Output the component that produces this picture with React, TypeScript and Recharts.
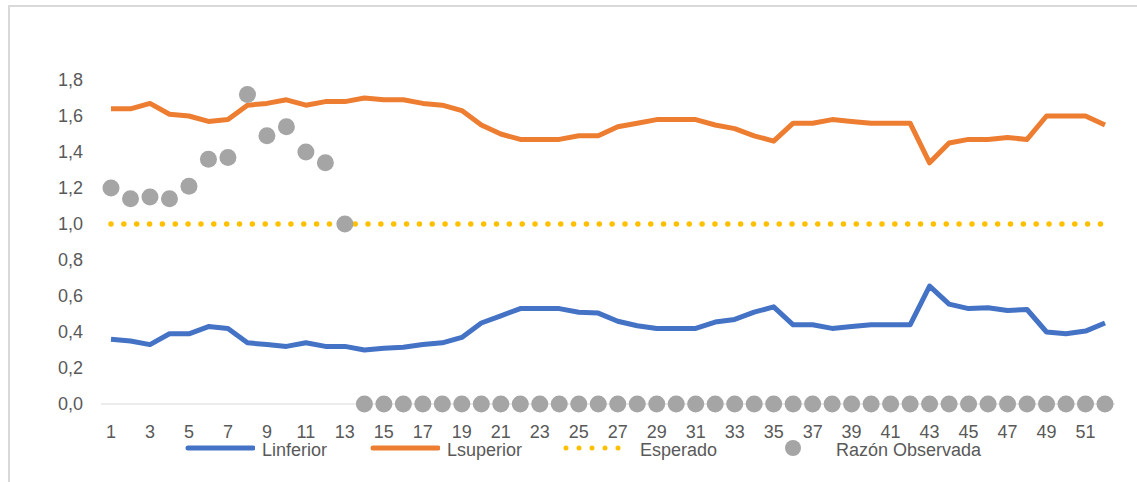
import React from 'react';
import { ComposedChart, Line, XAxis, YAxis } from 'recharts';

// semanas epidemiológicas
const semanas = [
  1, 2, 3, 4, 5, 6, 7, 8, 9, 10, 11, 12, 13, 14, 15, 16, 17, 18, 19, 20, 21, 22, 23, 24, 25, 26,
  27, 28, 29, 30, 31, 32, 33, 34, 35, 36, 37, 38, 39, 40, 41, 42, 43, 44, 45, 46, 47, 48, 49, 50, 51, 52,
];

const linferior = [
  0.36, 0.35, 0.33, 0.39, 0.39, 0.43, 0.42, 0.34, 0.33, 0.32, 0.34, 0.32, 0.32, 0.3, 0.31, 0.315, 0.33,
  0.34, 0.37, 0.45, 0.49, 0.53, 0.53, 0.53, 0.51, 0.505, 0.46, 0.435, 0.42, 0.42, 0.42, 0.455, 0.47, 0.51,
  0.54, 0.44, 0.44, 0.42, 0.43, 0.44, 0.44, 0.44, 0.655, 0.555, 0.53, 0.535, 0.52, 0.525, 0.4, 0.39, 0.405,
  0.45,
];

const lsuperior = [
  1.64, 1.64, 1.67, 1.61, 1.6, 1.57, 1.58, 1.66, 1.67, 1.69, 1.66, 1.68, 1.68, 1.7, 1.69, 1.69, 1.67, 1.66,
  1.63, 1.55, 1.5, 1.47, 1.47, 1.47, 1.49, 1.49, 1.54, 1.56, 1.58, 1.58, 1.58, 1.55, 1.53, 1.49, 1.46, 1.56,
  1.56, 1.58, 1.57, 1.56, 1.56, 1.56, 1.34, 1.45, 1.47, 1.47, 1.48, 1.47, 1.6, 1.6, 1.6, 1.55,
];

const esperado = [
  1, 1, 1, 1, 1, 1, 1, 1, 1, 1, 1, 1, 1, 1, 1, 1, 1, 1, 1, 1, 1, 1, 1, 1, 1, 1,
  1, 1, 1, 1, 1, 1, 1, 1, 1, 1, 1, 1, 1, 1, 1, 1, 1, 1, 1, 1, 1, 1, 1, 1, 1, 1,
];

const razonObservada = [
  1.2, 1.14, 1.15, 1.14, 1.21, 1.36, 1.37, 1.72, 1.49, 1.54, 1.4, 1.34, 1.0, 0, 0, 0, 0, 0, 0, 0, 0, 0, 0,
  0, 0, 0, 0, 0, 0, 0, 0, 0, 0, 0, 0, 0, 0, 0, 0, 0, 0, 0, 0, 0, 0, 0, 0, 0, 0, 0, 0, 0,
];

const yTicks = [0, 0.2, 0.4, 0.6, 0.8, 1.0, 1.2, 1.4, 1.6, 1.8];

const AZUL = '#4472C4';
const NARANJA = '#ED7D31';
const AMARILLO = '#FFC000';
const GRIS = '#A5A5A5';
const FONT = '"Liberation Sans", Arial, sans-serif';
const TEXTO = '#595959';

const data = semanas.map((s, i) => ({
  semana: s,
  Linferior: linferior[i],
  Lsuperior: lsuperior[i],
  Esperado: esperado[i],
  Razon: razonObservada[i],
}));

const fmt = (v: number) => v.toFixed(1).replace('.', ',');

// cada entrada de la leyenda: marcador de 70px y texto a su derecha
function LegendItem({ left, textLeft, marker, label }: { left: number; textLeft: number; marker: React.ReactNode; label: string }) {
  return (
    <>
      <svg width={70} height={18} style={{ position: 'absolute', left, top: 439 }}>
        {marker}
      </svg>
      <span style={{ position: 'absolute', left: textLeft, top: 441, lineHeight: '18px' }}>{label}</span>
    </>
  );
}

export default function App() {
  return (
    <div
      style={{
        position: 'absolute',
        left: 0,
        top: 0,
        width: 1137,
        height: 482,
        background: '#fff',
        overflow: 'hidden',
        fontFamily: FONT,
        fontSize: 18,
        color: TEXTO,
      }}
    >
      {/* marco del gráfico */}
      <div
        style={{
          position: 'absolute',
          left: 8,
          top: 5,
          width: 1140,
          height: 490,
          borderLeft: '2px solid #d9d9d9',
          borderTop: '2px solid #d9d9d9',
        }}
      />
      <ComposedChart width={1137} height={482} data={data} margin={{ top: 80, right: 22, bottom: 0, left: 0 }}>
        <XAxis
          dataKey="semana"
          scale="point"
          padding={{ left: 10, right: 10 }}
          interval={1}
          height={78}
          tickLine={false}
          tickSize={0}
          tickMargin={21}
          axisLine={{ stroke: '#d9d9d9', strokeWidth: 1 }}
          tick={{ fontFamily: FONT, fontSize: 18, fill: TEXTO }}
        />
        <YAxis
          width={101}
          domain={[0, 1.8]}
          ticks={yTicks}
          tickFormatter={fmt}
          axisLine={false}
          tickLine={false}
          tickSize={0}
          tickMargin={18}
          tick={{ fontFamily: FONT, fontSize: 18, fill: TEXTO }}
        />
        <Line dataKey="Linferior" stroke={AZUL} strokeWidth={5} strokeLinejoin="round" dot={false} isAnimationActive={false} />
        <Line dataKey="Lsuperior" stroke={NARANJA} strokeWidth={5} strokeLinejoin="round" dot={false} isAnimationActive={false} />
        <Line
          dataKey="Esperado"
          stroke={AMARILLO}
          strokeWidth={5.5}
          strokeDasharray="0 12.85"
          strokeLinecap="round"
          dot={false}
          isAnimationActive={false}
        />
        <Line dataKey="Razon" stroke="none" dot={{ r: 8.5, fill: GRIS, stroke: 'none' }} isAnimationActive={false} />
      </ComposedChart>
      {/* leyenda */}
      <LegendItem
        left={185}
        textLeft={262}
        label="Linferior"
        marker={<line x1={3} y1={9} x2={68} y2={9} stroke={AZUL} strokeWidth={5} strokeLinecap="round" />}
      />
      <LegendItem
        left={370}
        textLeft={447}
        label="Lsuperior"
        marker={<line x1={3} y1={9} x2={68} y2={9} stroke={NARANJA} strokeWidth={5} strokeLinecap="round" />}
      />
      <LegendItem
        left={563}
        textLeft={640}
        label="Esperado"
        marker={
          <line x1={3} y1={9} x2={68} y2={9} stroke={AMARILLO} strokeWidth={5} strokeDasharray="0 13" strokeLinecap="round" />
        }
      />
      <LegendItem left={758} textLeft={836} label="Razón Observada" marker={<circle cx={35} cy={9} r={8} fill={GRIS} />} />
    </div>
  );
}
